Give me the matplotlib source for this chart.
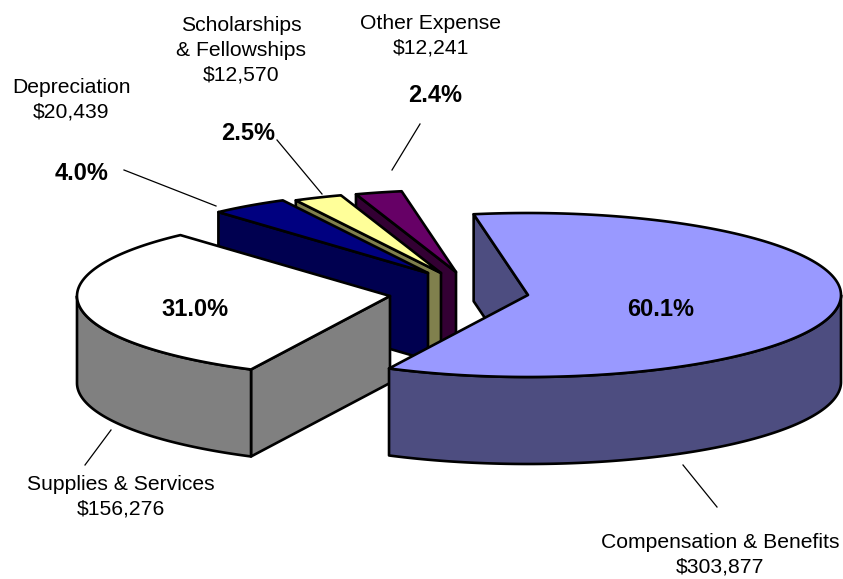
import numpy as np
import matplotlib
matplotlib.use('Agg')
import matplotlib.pyplot as plt

names = ['Compensation & Benefits', 'Supplies & Services', 'Depreciation',
         'Scholarships\n& Fellowships', 'Other Expense']
amounts = ['$303,877', '$156,276', '$20,439', '$12,570', '$12,241']
shares = [60.1, 31.0, 4.0, 2.5, 2.4]

top_colors = ['#9999ff', '#ffffff', '#000080', '#ffff99', '#660066']
side_colors = ['#4d4d80', '#808080', '#000050', '#80804d', '#330033']

# pie layout in pixels
centers = [(528, 295), (390, 296), (428, 273), (441, 273), (456, 272)]
rx = 313
ry = 82
depth = 87
start_angle = 100

label_pos = [(720, 555), (121, 497), (71, 100), (241, 50), (431, 36)]
pct_pos = [(661, 309), (195, 309), (82, 174), (248, 133), (435, 95)]
leaders = [((683, 465), (717, 507)), ((111, 430), (85, 465)),
           ((124, 170), (216, 206)), ((277, 140), (322, 194)),
           ((420, 124), (392, 170))]


def arc(c, a, b):
    t = np.radians(np.linspace(a, b, 200))
    return c[0] + rx * np.cos(t), c[1] - ry * np.sin(t)


plt.rcParams['font.family'] = ['Liberation Sans', 'DejaVu Sans']
fig = plt.figure(figsize=(8.43, 5.79), dpi=100)
ax = fig.add_axes([0, 0, 1, 1])
ax.set_xlim(0, 843)
ax.set_ylim(579, 0)
ax.axis('off')

hi = start_angle
spans = []
for s in shares:
    lo = hi - s * 3.6
    spans.append((hi, lo))
    hi = lo

# back slices first, the big front slice last
for i in [4, 3, 2, 1, 0]:
    hi, lo = spans[i]
    c = centers[i]
    kw = dict(edgecolor='black', linewidth=1.9, joinstyle='round')
    # cut face at the high-angle edge
    x0, y0 = arc(c, hi, hi)
    ax.fill([c[0], x0[0], x0[0], c[0]],
            [c[1], y0[0], y0[0] + depth, c[1] + depth],
            facecolor=side_colors[i], **kw)
    # outer rim, only the part facing the viewer
    a = np.mod(hi, 360)
    b = a - (hi - lo)
    if a > 180:
        rim_a = min(a, 360)
        rim_b = max(b, 180)
        xr, yr = arc(c, rim_a, rim_b)
        ax.fill(np.r_[xr, xr[::-1]], np.r_[yr, yr[::-1] + depth],
                facecolor=side_colors[i], **kw)
    elif b < 0:
        xr, yr = arc(c, 0, max(b, -180))
        ax.fill(np.r_[xr, xr[::-1]], np.r_[yr, yr[::-1] + depth],
                facecolor=side_colors[i], **kw)
    # top face
    xt, yt = arc(c, hi, lo)
    ax.fill(np.r_[c[0], xt], np.r_[c[1], yt], facecolor=top_colors[i], **kw)

for i in range(5):
    ax.text(label_pos[i][0], label_pos[i][1], names[i] + '\n' + amounts[i],
            ha='center', va='center', fontsize=15.2, linespacing=1.37)
    ax.text(pct_pos[i][0], pct_pos[i][1], '%.1f%%' % shares[i],
            ha='center', va='center', fontsize=17, fontweight='bold')
    p, q = leaders[i]
    ax.plot([p[0], q[0]], [p[1], q[1]], color='black', lw=0.9)

fig.savefig('out.png', dpi=100)
